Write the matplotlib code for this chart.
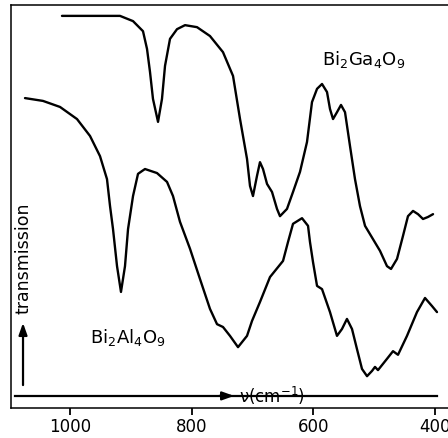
import matplotlib.pyplot as plt

plt.rcParams['font.family'] = 'DejaVu Sans'
plt.rcParams['mathtext.default'] = 'regular'

# Bi2Ga4O9 spectrum (upper trace), wavenumber in cm-1, transmission in arbitrary units
ga_wn = [1013.2, 967.1, 917.8, 896.4, 880.0, 873.4, 868.5, 863.6, 855.3, 848.8, 843.8,
         835.6, 824.1, 810.9, 791.2, 769.9, 748.5, 732.0, 720.5, 709.0, 704.1, 699.2,
         692.6, 687.7, 682.7, 676.1, 667.9, 659.7, 654.8, 643.3, 633.4, 621.9, 610.4,
         602.2, 593.9, 585.7, 577.5, 572.6, 567.6, 561.1, 554.5, 547.9, 539.7, 531.5,
         523.3, 515.0, 501.9, 490.4, 478.9, 472.3, 462.4, 452.6, 444.4, 436.1, 427.9,
         419.7, 411.5, 403.2]
ga_tr = [97.3, 97.3, 97.3, 96.0, 93.5, 89.1, 83.4, 76.7, 71.0, 76.7, 84.9,
         91.6, 94.0, 95.0, 94.5, 92.3, 88.3, 82.4, 71.7, 61.8, 55.1, 52.6,
         57.6, 61.0, 59.3, 55.6, 53.6, 49.4, 47.6, 49.4, 53.6, 58.6, 66.0,
         75.9, 79.2, 80.4, 78.4, 74.2, 71.7, 73.4, 75.2, 73.4, 65.0, 56.8,
         50.1, 45.2, 41.9, 39.0, 35.2, 34.5, 37.0, 42.7, 47.6, 48.9, 48.1,
         46.9, 47.4, 48.1]

# Bi2Al4O9 spectrum (lower trace)
al_wn = [1074.0, 1044.4, 1016.4, 988.5, 967.1, 950.7, 939.2, 934.2, 929.3, 922.7, 916.2,
         909.6, 904.6, 896.4, 888.2, 881.6, 876.7, 857.0, 840.5, 830.7, 819.2, 802.7,
         786.3, 769.9, 758.3, 748.5, 737.0, 723.8, 709.0, 700.8, 687.7, 671.2, 649.8,
         641.6, 633.4, 618.6, 608.7, 605.5, 600.5, 593.9, 585.7, 572.6, 561.1, 552.9,
         544.7, 536.4, 528.2, 520.0, 511.7, 503.5, 498.6, 493.7, 478.9, 469.0, 460.8,
         446.0, 429.6, 416.4, 404.9, 396.7]
al_tr = [76.9, 76.2, 74.7, 71.7, 67.5, 62.5, 56.8, 50.1, 44.4, 35.2, 28.8,
         35.2, 44.4, 52.6, 58.1, 58.8, 59.3, 58.3, 56.1, 52.6, 46.2, 39.5,
         32.0, 24.6, 20.8, 20.1, 17.9, 15.1, 17.9, 21.6, 26.3, 32.5, 36.5,
         41.2, 45.7, 47.1, 45.2, 41.2, 36.2, 30.3, 29.5, 23.8, 17.9, 19.6,
         22.1, 19.6, 14.6, 9.7, 7.9, 9.2, 10.2, 9.4, 12.2, 14.1, 13.2,
         17.9, 23.8, 27.3, 25.3, 23.8]

ticks = [1000, 800, 600, 400]

fig = plt.figure(figsize=(4.48, 4.39), dpi=100)
ax = fig.add_axes([11 / 448, 1 - 409 / 439, 437 / 448, 403 / 439])

ax.plot(ga_wn, ga_tr, color='black', lw=1.7, solid_joinstyle='round', solid_capstyle='round')
ax.plot(al_wn, al_tr, color='black', lw=1.7, solid_joinstyle='round', solid_capstyle='round')

ax.set_xlim(1097, 378.6)
ax.set_ylim(0, 100)
ax.set_xticks(ticks)
ax.set_xticklabels([str(t) for t in ticks])
ax.set_yticks([])
ax.tick_params(axis='x', direction='out', length=5, width=1.3, pad=1.5, labelsize=12)
ax.spines['right'].set_visible(False)
for s in ['left', 'top', 'bottom']:
    ax.spines[s].set_linewidth(1.1)

ax.text(585.7, 85.4, r'Bi$_2$Ga$_4$O$_9$', fontsize=13, ha='left', va='baseline')
ax.text(967, 16.4, r'Bi$_2$Al$_4$O$_9$', fontsize=13, ha='left', va='baseline')

# horizontal wavenumber arrow
yl = 0.03
ax.plot([0.009, 0.975], [yl, yl], transform=ax.transAxes, color='black', lw=1.6, clip_on=False)
ax.annotate('', xy=(0.517, yl), xytext=(0.47, yl), xycoords='axes fraction',
            arrowprops=dict(arrowstyle='-|>,head_length=0.7,head_width=0.25', color='black', lw=1.6))
ax.text(0.522, yl + 0.002, r'ν(cm$^{-1}$)', transform=ax.transAxes, fontsize=12,
        ha='left', va='center')

# vertical transmission arrow
xv = 0.0275
ax.annotate('', xy=(xv, 0.218), xytext=(xv, 0.05), xycoords='axes fraction',
            arrowprops=dict(arrowstyle='-|>,head_length=0.7,head_width=0.25', color='black', lw=1.6))
ax.text(xv, 0.375, 'transmission', transform=ax.transAxes, fontsize=12.5,
        rotation=90, ha='center', va='center')

fig.savefig('out.png', dpi=100)
